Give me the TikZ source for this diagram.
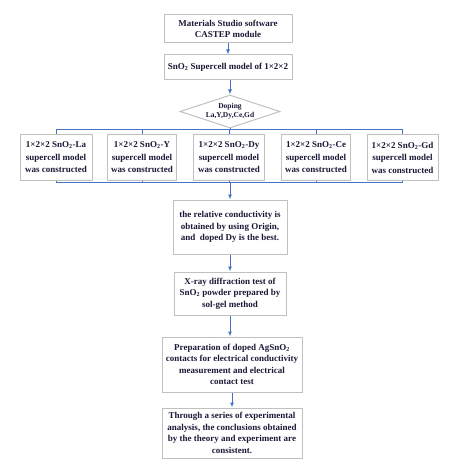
\documentclass[tikz,border=0pt]{standalone}
\usepackage{fontspec}
\setmainfont{Liberation Serif}
\usetikzlibrary{shapes.geometric,arrows.meta}
\definecolor{boxgray}{RGB}{192,192,192}
\definecolor{linkblue}{RGB}{68,114,196}
\definecolor{textnavy}{RGB}{25,25,55}

\begin{document}
\begin{tikzpicture}[x=1pt,y=-1pt,
  box/.style={draw=boxgray, line width=1pt, align=center, text=textnavy,
    font=\fontsize{9}{11.5}\selectfont\bfseries, inner sep=1pt},
  flow/.style={draw=linkblue, line width=1pt},
  arr/.style={flow, -{Latex[length=5pt,width=4pt]}}]
        \useasboundingbox (0,0) rectangle (450,473);

        % top of the chart
        \node[box, minimum width=128pt, minimum height=28pt] (castep) at (228,29)
          {Materials Studio software\\CASTEP module};
        \node[box, minimum width=128pt, minimum height=25pt] (supercell) at (228,67.5)
          {SnO\textsubscript{2} Supercell model of 1×2×2};
        \node[box, shape=diamond, aspect=3, inner sep=0pt, minimum width=100pt,
          minimum height=33pt, font=\fontsize{7.5}{9}\selectfont\bfseries] (doping) at (230,111.5)
          {Doping\\La,Y,Dy,Ce,Gd};

        % one model per dopant
        \node[box, minimum width=72pt, minimum height=45pt, font=\fontsize{9}{12.5}\selectfont\bfseries] (la) at (56,157.5)
          {1×2×2 SnO\textsubscript{2}-La\\supercell model\\was constructed};
        \node[box, minimum width=69pt, minimum height=45pt, font=\fontsize{9}{12.5}\selectfont\bfseries] (y) at (142,157.5)
          {1×2×2 SnO\textsubscript{2}-Y\\supercell model\\was constructed};
        \node[box, minimum width=71pt, minimum height=45pt, font=\fontsize{9}{12.5}\selectfont\bfseries] (dy) at (229,157.5)
          {1×2×2 SnO\textsubscript{2}-Dy\\supercell model\\was constructed};
        \node[box, minimum width=69pt, minimum height=45pt, font=\fontsize{9}{12.5}\selectfont\bfseries] (ce) at (316,157.5)
          {1×2×2 SnO\textsubscript{2}-Ce\\supercell model\\was constructed};
        \node[box, minimum width=71pt, minimum height=45pt, font=\fontsize{9}{12.5}\selectfont\bfseries] (gd) at (402.5,157.5)
          {1×2×2 SnO\textsubscript{2}-Gd\\supercell model\\was constructed};

        % lower chain
        \node[box, minimum width=114pt, minimum height=54pt] (cond) at (230,227)
          {the relative conductivity is\\obtained by using Origin,\\and\ \ doped Dy is the best.};
        \node[box, minimum width=112pt, minimum height=43pt] (xray) at (230,293.5)
          {X-ray diffraction test of\\SnO\textsubscript{2} powder prepared by\\sol-gel method};
        \node[box, minimum width=140pt, minimum height=55pt] (prep) at (232,364.5)
          {Preparation of doped AgSnO\textsubscript{2}\\contacts for electrical conductivity\\measurement and electrical\\contact test};
        \node[box, minimum width=140pt, minimum height=50pt] (final) at (232,433)
          {Through a series of experimental\\analysis, the conclusions obtained\\by the theory and experiment are\\consistent.};

        \coordinate (splitT) at (230,129.5);
        \coordinate (splitB) at (230,182);

        \draw[arr] (castep.south -| supercell.north) -- (supercell.north);
        \draw[arr] (supercell.south -| doping.north) -- (doping.north);
        \draw[flow] (doping.south) -- (splitT);
        \draw[flow] (la.north |- splitT) -- (gd.north |- splitT);
        \draw[flow] (la.south |- splitB) -- (gd.south |- splitB);
        \foreach \m in {la,y,dy,ce,gd}{
          \draw[flow] (\m.north |- splitT) -- (\m.north);
          \draw[flow] (\m.south) -- (\m.south |- splitB);
        }
        \draw[arr] (splitB) -- (cond.north);
        \draw[arr] (cond.south) -- (xray.north);
        \draw[arr] (xray.south) -- (xray.south |- prep.north);
        \draw[arr] (prep.south) -- (final.north);
    \end{tikzpicture}
\end{document}
